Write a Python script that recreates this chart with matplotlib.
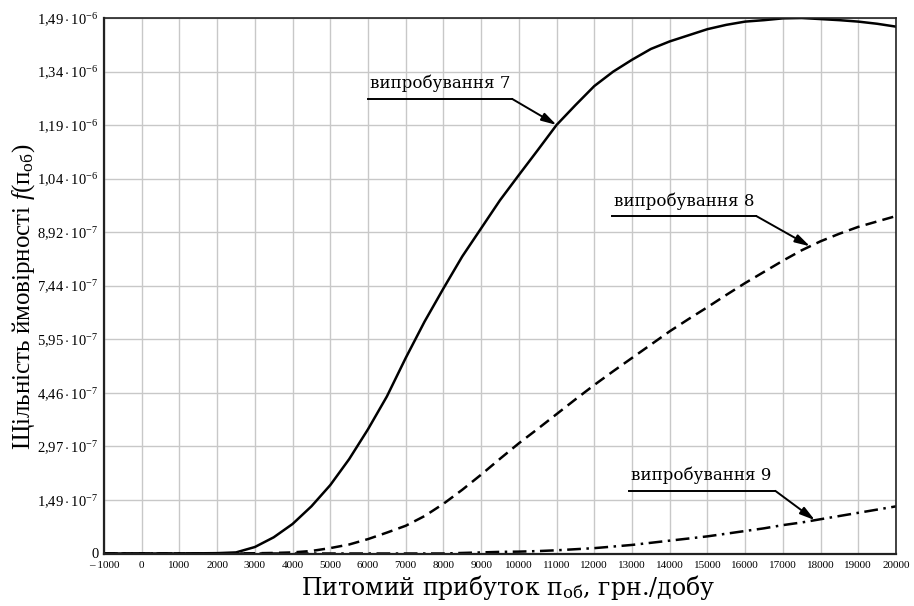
import numpy as np
import matplotlib.pyplot as plt

plt.rcParams['font.family'] = ['Liberation Serif', 'DejaVu Serif']
plt.rcParams['mathtext.fontset'] = 'custom'
plt.rcParams['mathtext.rm'] = 'Liberation Serif'
plt.rcParams['mathtext.it'] = 'Liberation Serif:italic'
plt.rcParams['mathtext.bf'] = 'Liberation Serif:bold'

# profit per day, UAH
profit = [-1000, 0, 1000, 2000, 2500, 3000, 3500, 4000, 4500, 5000, 5500,
          6000, 6500, 7000, 7500, 8000, 8500, 9000, 9500, 10000, 10500,
          11000, 11500, 12000, 12500, 13000, 13500, 14000, 14500, 15000,
          15500, 16000, 16500, 17000, 17500, 18000, 18500, 19000, 19500, 20000]

# probability density, units of 1e-7
test7 = [0, 0, 0, 0.01, 0.03, 0.18, 0.45, 0.82, 1.31, 1.90, 2.62,
         3.45, 4.36, 5.43, 6.44, 7.36, 8.25, 9.03, 9.81, 10.51, 11.20,
         11.90, 12.45, 12.98, 13.38, 13.71, 14.01, 14.22, 14.39, 14.56,
         14.68, 14.77, 14.81, 14.86, 14.87, 14.84, 14.81, 14.77, 14.71, 14.63]
test8 = [0, 0, 0, 0, 0, 0.007, 0.015, 0.03, 0.07, 0.15, 0.25,
         0.40, 0.58, 0.77, 1.04, 1.38, 1.77, 2.19, 2.63, 3.06, 3.46,
         3.87, 4.28, 4.68, 5.06, 5.43, 5.80, 6.17, 6.51, 6.84,
         7.18, 7.51, 7.82, 8.13, 8.42, 8.67, 8.88, 9.07, 9.22, 9.37]
test9 = [0, 0, 0, 0, 0, 0, 0, 0, 0, 0, 0,
         0, 0, 0, 0, 0, 0.015, 0.03, 0.045, 0.052, 0.067,
         0.089, 0.119, 0.149, 0.193, 0.238, 0.297, 0.357, 0.416, 0.476,
         0.550, 0.625, 0.699, 0.788, 0.862, 0.952, 1.041, 1.130, 1.219, 1.309]

y_step = 1.487e-7
y_labels = ['0', r'$1{,}49\cdot10^{-7}$', r'$2{,}97\cdot10^{-7}$', r'$4{,}46\cdot10^{-7}$',
            r'$5{,}95\cdot10^{-7}$', r'$7{,}44\cdot10^{-7}$', r'$8{,}92\cdot10^{-7}$',
            r'$1{,}04\cdot10^{-6}$', r'$1{,}19\cdot10^{-6}$', r'$1{,}34\cdot10^{-6}$',
            r'$1{,}49\cdot10^{-6}$']
x_ticks = list(range(-1000, 20001, 1000))
x_labels = ['– 1000'] + [str(v) for v in x_ticks[1:]]

x = np.array(profit, dtype=float)
curves = {
    'випробування 7': np.array(test7) * 1e-7,
    'випробування 8': np.array(test8) * 1e-7,
    'випробування 9': np.array(test9) * 1e-7,
}

fig = plt.figure(figsize=(9.14, 6.06), dpi=100)
ax = fig.add_axes([104 / 914, 1 - 553.5 / 606, 792 / 914, 535.5 / 606])

ax.plot(x, curves['випробування 7'], color='black', lw=1.8, solid_joinstyle='round')
ax.plot(x, curves['випробування 8'], color='black', lw=1.8, dashes=(4.5, 2.5))
ax.plot(x, curves['випробування 9'], color='black', lw=1.8, dashes=(5.5, 2.2, 1.0, 2.2))

ax.set_xlim(-1000, 20000)
ax.set_ylim(0, 10 * y_step)
ax.set_xticks(x_ticks)
ax.set_xticklabels(x_labels, fontsize=8)
ax.set_yticks([i * y_step for i in range(11)])
ax.set_yticklabels(y_labels, fontsize=10.5)
ax.tick_params(axis='y', length=0, pad=4)
ax.tick_params(axis='x', length=0, pad=5.5)
ax.grid(True, color='#c8c8c8', lw=1.0)
ax.set_axisbelow(True)
for side in ['left', 'bottom', 'top', 'right']:
    ax.spines[side].set_color('#222222')
    ax.spines[side].set_linewidth(1.2)
ax.spines['left'].set_linewidth(1.6)
ax.spines['bottom'].set_linewidth(1.6)

ax.set_xlabel('Питомий прибуток п$_{\\mathrm{об}}$, грн./добу', fontsize=17,
              fontfamily='DejaVu Serif', math_fontfamily='dejavuserif')
ax.xaxis.set_label_coords(0.51, -0.036)
ax.set_ylabel('Щільність ймовірності $\\mathit{f}(\\mathrm{п}_{\\mathrm{об}})$',
              fontsize=18)
ax.yaxis.set_label_coords(-0.084, 0.48)

# labels: underline from x0 to x1 at level yl, then arrow to the curve at tip_x
notes = [
    ('випробування 7', 6000, 9820, 8.49 * y_step, 11000),
    ('випробування 8', 12460, 16300, 6.30 * y_step, 17720),
    ('випробування 9', 12930, 16800, 1.17 * y_step, 17850),
]
for name, x0, x1, yl, tip_x in notes:
    tip_y = np.interp(tip_x, x, curves[name])
    ax.plot([x0, x1], [yl, yl], color='black', lw=1.4)
    ax.annotate('', xy=(tip_x, tip_y), xytext=(x1, yl),
                arrowprops=dict(arrowstyle='-|>,head_length=0.9,head_width=0.25',
                                color='black', lw=1.4, shrinkA=0, shrinkB=0))
    ax.text(x0 + 50, yl + 0.12 * y_step, name, fontsize=12, ha='left', va='bottom',
            fontfamily='DejaVu Serif')

fig.savefig('out.png', dpi=100)
